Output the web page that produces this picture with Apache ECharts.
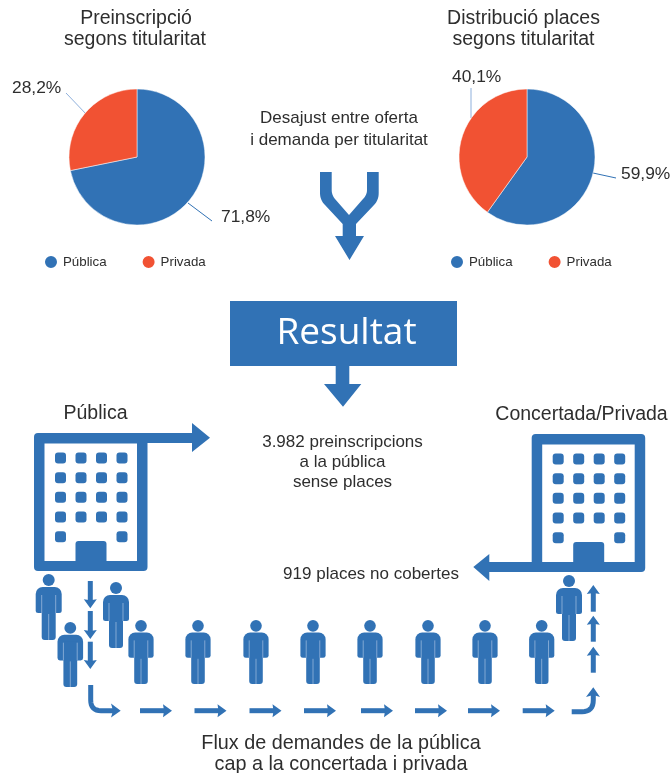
<!DOCTYPE html>
<html>
<head>
<meta charset="utf-8">
<title>Preinscripció</title>
<script src="https://cdn.jsdelivr.net/npm/echarts@6/dist/echarts.min.js"></script>
<style>
html, body { margin: 0; padding: 0; background: #fff; }
#chart { width: 672px; height: 773px; }
</style>
</head>
<body>
<div id="chart"></div>
<script>
// dades
var categories = ['Pública', 'Privada'];
var preinscripcio = [71.8, 28.2];
var places = [59.9, 40.1];

var blue = '#3172b5';
var orange = '#f15233';
var lightBlue = '#8fb0dc';
var textColor = '#2e2e2e';
var font = '"Liberation Sans", Arial, sans-serif';

var chart = echarts.init(document.getElementById('chart'));

function pct(params) {
    return params.value.toFixed(1).replace('.', ',') + '%';
}
function pieData(values) {
    return categories.map(function (c, i) {
        return {
            name: c, value: values[i],
            itemStyle: { color: i == 0 ? blue : orange },
            labelLine: { lineStyle: { color: i == 0 ? blue : lightBlue } }
        };
    });
}
// posicio de les etiquetes i linies, per ordre de categoria
function pieSeries(values, cx, layouts) {
    return {
        type: 'pie',
        center: [cx, 157],
        radius: [0, 68],
        startAngle: 90,
        clockwise: true,
        silent: true,
        animation: false,
        data: pieData(values),
        itemStyle: { borderColor: '#fff', borderWidth: 0.5 },
        label: { formatter: pct, color: textColor, fontFamily: font, fontSize: 17.4, overflow: 'none' },
        labelLine: { show: true, lineStyle: { width: 1 } },
        labelLayout: function (params) {
            return layouts[params.dataIndex];
        }
    };
}

var g = [];

function text(str, x, y, size, align, color, family) {
    g.push({
        type: 'text', x: x, y: y + 1.5, silent: true,
        style: {
            text: str, fontSize: size, fontFamily: family || font,
            fill: color || textColor, align: align || 'center', verticalAlign: 'middle'
        }
    });
}
// passa un traç M/L/Q/Z a una llista de punts
function flatten(d) {
    var toks = d.match(/[MLQZ]|-?[\d.]+/g), pts = [], i = 0, cur;
    while (i < toks.length) {
        var t = toks[i++];
        if (t == 'M' || t == 'L') {
            cur = [+toks[i], +toks[i + 1]];
            pts.push(cur);
            i += 2;
        } else if (t == 'Q') {
            var cp = [+toks[i], +toks[i + 1]], end = [+toks[i + 2], +toks[i + 3]];
            for (var k = 1; k <= 8; k++) {
                var s = k / 8, m = 1 - s;
                pts.push([m * m * cur[0] + 2 * m * s * cp[0] + s * s * end[0], m * m * cur[1] + 2 * m * s * cp[1] + s * s * end[1]]);
            }
            cur = end;
            i += 4;
        }
    }
    return pts;
}
function path(d) {
    g.push({ type: 'polygon', silent: true, shape: { points: flatten(d) }, style: { fill: blue } });
}
function line(d, w) {
    g.push({ type: 'polyline', silent: true, shape: { points: flatten(d) }, style: { fill: null, stroke: blue, lineWidth: w } });
}
// fletxa recta petita
function arrow(x1, y1, x2, y2) {
    var len = Math.sqrt((x2 - x1) * (x2 - x1) + (y2 - y1) * (y2 - y1));
    var ux = (x2 - x1) / len, uy = (y2 - y1) / len;
    var bx = x2 - ux * 8, by = y2 - uy * 8;
    var nx = -uy, ny = ux;
    line('M' + x1 + ' ' + y1 + 'L' + (bx + ux) + ' ' + (by + uy), 5);
    path('M' + x2 + ' ' + y2 + 'L' + (bx - ux + nx * 6.5) + ' ' + (by - uy + ny * 6.5) +
        'L' + bx + ' ' + by + 'L' + (bx - ux - nx * 6.5) + ' ' + (by - uy - ny * 6.5) + 'Z');
}
function building(x, y) {
    var c = [
        { type: 'rect', shape: { x: 0, y: 0, width: 113.5, height: 138, r: 4 }, style: { fill: blue } },
        { type: 'rect', shape: { x: 10.5, y: 10.5, width: 92.5, height: 117.5 }, style: { fill: '#fff' } },
        { type: 'rect', shape: { x: 41.5, y: 108, width: 31, height: 22, r: [3, 3, 0, 0] }, style: { fill: blue } }
    ];
    var cols = [26.5, 47, 67.5, 88], rows = [25, 44.7, 64.3, 84, 103.7];
    rows.forEach(function (ry, r) {
        cols.forEach(function (rx, k) {
            if (r == 4 && (k == 1 || k == 2)) return;
            c.push({ type: 'rect', shape: { x: rx - 5.5, y: ry - 5.5, width: 11, height: 11, r: 3 }, style: { fill: blue } });
        });
    });
    g.push({ type: 'group', x: x, y: y, silent: true, children: c });
}
function person(cx, top, bottom) {
    var gap = '#8db0d8';
    g.push({
        type: 'group', x: cx, y: top, scaleX: (bottom - top) / 66, scaleY: (bottom - top) / 66, silent: true,
        children: [
            { type: 'circle', shape: { cx: 0, cy: 6, r: 6 }, style: { fill: blue } },
            { type: 'rect', shape: { x: -13, y: 13, width: 26, height: 26, r: [7, 7, 2.5, 2.5] }, style: { fill: blue } },
            { type: 'rect', shape: { x: -7, y: 20, width: 14, height: 46, r: [0, 0, 3, 3] }, style: { fill: blue } },
            { type: 'line', shape: { x1: -7, y1: 21, x2: -7, y2: 39 }, style: { stroke: gap, lineWidth: 0.9 } },
            { type: 'line', shape: { x1: 7, y1: 21, x2: 7, y2: 39 }, style: { stroke: gap, lineWidth: 0.9 } },
            { type: 'line', shape: { x1: 0, y1: 40, x2: 0, y2: 66 }, style: { stroke: gap, lineWidth: 0.9 } }
        ]
    });
}

// titols
text('Preinscripció', 136, 17, 19.5);
text('segons titularitat', 135, 38, 19.5);
text('Distribució places', 523.5, 17, 19.5);
text('segons titularitat', 523.5, 38, 19.5);
text('Desajust entre oferta', 339, 117, 17);
text('i demanda per titularitat', 339, 139, 17);

// fletxa en Y
path('M320 172L331.7 172L331.7 190Q331.7 195 335 199L349 215L363 199Q367 195 367 190L367 172L378.7 172L378.7 193Q378.7 200 374 205L356 224L356 236L364 236L349.5 260L335 236L342.7 236L342.7 224L325 205Q320 200 320 193Z');

// Resultat
g.push({ type: 'rect', silent: true, shape: { x: 230, y: 301, width: 227, height: 65 }, style: { fill: blue } });
text('Resultat', 346.5, 331.5, 37, 'center', '#fff', '"Open Sans", sans-serif');
path('M335.7 366L349.3 366L349.3 384L361.3 384L343 406.7L324 384L335.7 384Z');

text('Pública', 95.5, 412, 19.5);
text('Concertada/Privada', 581.5, 413, 19.5);
text('3.982 preinscripcions', 342.5, 441, 17);
text('a la pública', 342.5, 461, 17);
text('sense places', 342.5, 481, 17);
text('919 places no cobertes', 371, 573, 17);
text('Flux de demandes de la pública', 341, 742.5, 19.8);
text('cap a la concertada i privada', 341, 763, 19.8);

// edificis i les seves fletxes
building(34, 433);
path('M140 433L192 433L192 423L210 437.7L192 452L192 443L140 443Z');
building(531.7, 434);
path('M540 562L489.3 562L489.3 554L473.3 567L489.3 581L489.3 572L540 572Z');

// persones
person(48.7, 574, 640);
person(70.3, 622, 687);
person(116, 582, 648);
person(141, 620, 684);
person(198, 620, 684);
person(256, 620, 684);
person(313, 620, 684);
person(370, 620, 684);
person(428, 620, 684);
person(485, 620, 684);
person(541.7, 620, 684);
person(569, 575, 641);

// flux de fletxes
arrow(90.3, 581, 90.3, 608.3);
arrow(90.3, 611, 90.3, 639);
arrow(90.3, 641.7, 90.3, 669);
line('M90.7 685L90.7 700Q90.7 710.7 101 710.7L113 710.7', 5);
path('M120.7 710.7L111 703.5L113 710.7L111 717.5Z');
[140, 194.5, 249.5, 304, 361, 415, 468, 522.7].forEach(function (x) {
    arrow(x, 710.7, x + 32, 710.7);
});
line('M571.7 711.7L582 711.7Q593.3 711.7 593.3 700L593.3 694', 5);
path('M593.3 687.3L586 697L593.3 695L600 697Z');
arrow(593.3, 672.7, 593.3, 646.7);
arrow(593.3, 641.7, 593.3, 615.7);
arrow(593.3, 611.7, 593.3, 585);

var legendBase = {
    data: categories, icon: 'circle', top: 249, itemWidth: 14, itemHeight: 14,
    itemGap: 34, selectedMode: false,
    textStyle: { color: textColor, fontFamily: font, fontSize: 13.3 }
};

option = {
    backgroundColor: '#fff',
    animation: false,
    tooltip: { show: false },
    legend: [
        Object.assign({}, legendBase, { left: 38 }),
        Object.assign({}, legendBase, { left: 444 })
    ],
    series: [
        pieSeries(preinscripcio, 137, [
            { x: 221, y: 217, align: 'left', verticalAlign: 'middle', labelLinePoints: [[188, 203], [212, 221], [212, 221]] },
            { x: 12, y: 88, align: 'left', verticalAlign: 'middle', labelLinePoints: [[87, 115], [66, 93], [66, 93]] }
        ]),
        pieSeries(places, 527, [
            { x: 621, y: 174, align: 'left', verticalAlign: 'middle', labelLinePoints: [[593, 173], [616, 178], [616, 178]] },
            { x: 452, y: 77, align: 'left', verticalAlign: 'middle', labelLinePoints: [[471, 118], [471, 88], [471, 88]] }
        ])
    ],
    graphic: g
};
chart.setOption(option);
</script>
</body>
</html>
